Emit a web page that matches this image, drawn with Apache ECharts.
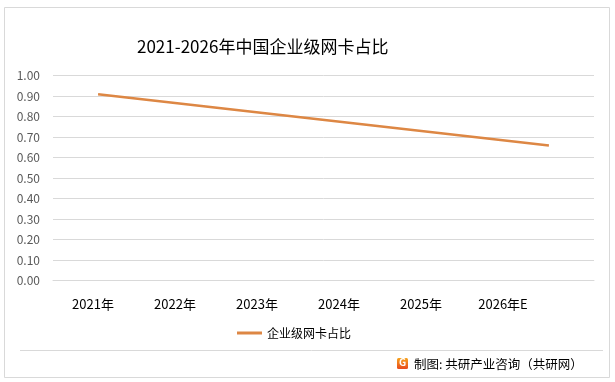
<!DOCTYPE html>
<html>
<head>
<meta charset="utf-8">
<script src="https://cdn.jsdelivr.net/npm/echarts@6/dist/echarts.min.js"></script>
<style>html,body{margin:0;padding:0;background:#fff}#c{width:615px;height:382px}</style>
</head>
<body>
<div id="c"></div>
<script>
var categories = ['2021年', '2022年', '2023年', '2024年', '2025年', '2026年E'];
var shareValues = [0.91, 0.86, 0.81, 0.76, 0.71, 0.66];
var seriesName = '企业级网卡占比';
var titleText = '2021-2026年中国企业级网卡占比';
var footerText = '制图: 共研产业咨询（共研网）';

var font = '"Noto Sans CJK SC", "Noto Sans", sans-serif';
var chart = echarts.init(document.getElementById('c'), null, {renderer: 'canvas'});
chart.setOption({
  backgroundColor: '#fff',
  animation: false,
  textStyle: {fontFamily: font},
  title: {
    text: titleText, left: 132, top: 33,
    textStyle: {fontSize: 17, fontWeight: 'normal', color: '#000', fontFamily: font}
  },
  legend: {
    data: [seriesName], left: 232, top: 322,
    icon: 'rect', itemWidth: 25, itemHeight: 3, itemGap: 5,
    textStyle: {fontSize: 12, color: '#000', fontFamily: font}
  },
  grid: [
    {left: 53, right: 21, top: 75.7, bottom: 101.3},
    {left: 52, right: 71, top: 75.7, bottom: 101.3}
  ],
  xAxis: [
    {type: 'category', gridIndex: 0, data: categories, boundaryGap: true,
     axisLine: {show: true, lineStyle: {color: '#d9d9d9'}}, axisTick: {show: false},
     axisLabel: {show: false}},
    {type: 'category', gridIndex: 1, data: categories, boundaryGap: true,
     axisLine: {show: false}, axisTick: {show: false},
     axisLabel: {show: true, margin: 17, fontSize: 13, color: '#000', fontFamily: font}}
  ],
  yAxis: [
    {type: 'value', gridIndex: 0, min: 0, max: 1, interval: 0.1,
     axisLine: {show: false}, axisTick: {show: false},
     splitLine: {lineStyle: {color: '#d9d9d9', width: 1}},
     axisLabel: {margin: 13, fontSize: 12, color: '#595959', fontFamily: font,
       formatter: function (v) { return v.toFixed(2); }}},
    {type: 'value', gridIndex: 1, min: 0, max: 1, show: false}
  ],
  series: [{
    name: seriesName, type: 'line', xAxisIndex: 0, yAxisIndex: 0,
    data: shareValues, showSymbol: false, symbol: 'none',
    lineStyle: {color: '#DD8744', width: 2.5},
    itemStyle: {color: '#DD8744'}
  }],
  graphic: [
    {type: 'rect', shape: {x: 4.5, y: 7.5, width: 605, height: 370},
     style: {fill: 'none', stroke: '#d9d9d9', lineWidth: 1}, silent: true},
    {type: 'line', shape: {x1: 20, y1: 350.5, x2: 603, y2: 350.5},
     style: {stroke: '#d9d9d9', lineWidth: 1}, silent: true},
    {type: 'rect', shape: {x: 397, y: 358, width: 11, height: 11, r: 1.5},
     style: {fill: new echarts.graphic.LinearGradient(0, 0, 0, 1, [{offset: 0, color: '#F7A21B'}, {offset: 1, color: '#E84A1E'}])}, silent: true},
    {type: 'text', left: 399, top: 357, style: {text: 'G', fill: '#fff', fontSize: 10, fontWeight: 'bold', fontFamily: font}, silent: true},
    {type: 'text', left: 414, top: 358, style: {text: footerText, fill: '#000', fontSize: 12.5, fontFamily: font}, silent: true}
  ]
});
</script>
</body>
</html>
